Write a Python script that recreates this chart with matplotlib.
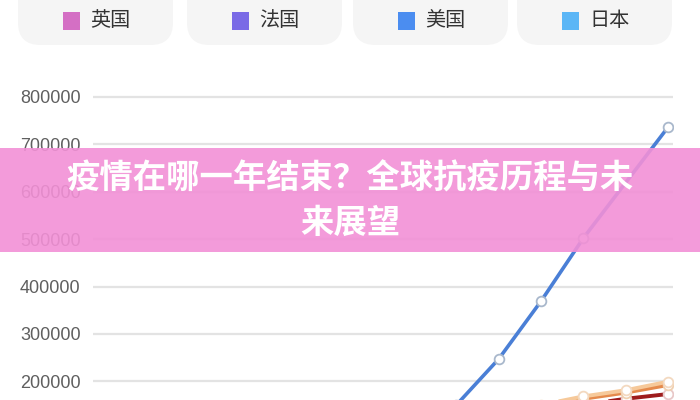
import matplotlib.pyplot as plt
from matplotlib.patches import FancyBboxPatch, Rectangle

plt.rcParams['font.family'] = ['Noto Sans CJK SC', 'DejaVu Sans']

# Данные графика
legend_names = ['英国', '法国', '美国', '日本']
legend_colors = ['#d46fc4', '#7a6ae6', '#4b8df0', '#5bb6f6']

points = list(range(14))
# у США нет точки с индексом 12
usa_points = [0, 1, 2, 3, 4, 5, 6, 7, 8, 9, 10, 11, 13]
usa = [0, 2000, 6000, 15000, 30000, 50000, 75000, 110000, 150000,
       247000, 369000, 502000, 736000]
peach = [0, 2000, 5000, 10000, 20000, 35000, 50000, 70000, 90000, 120000,
         150000, 168000, 181000, 199000]
orange = [0, 2000, 5000, 10000, 20000, 35000, 50000, 70000, 90000, 115000,
          145000, 163000, 176000, 192000]
darkred = [0, 1000, 4000, 8000, 15000, 30000, 45000, 60000, 80000, 105000,
           130000, 150000, 163000, 173000]
yticks = [200000, 300000, 400000, 500000, 600000, 700000, 800000]

title = '疫情在哪一年结束？全球抗疫历程与未\n来展望'

W, H = 700, 400
fig = plt.figure(figsize=(7, 4), dpi=100)
fig.patch.set_facecolor('white')

# оси: 0 -> y=476px, 800000 -> y=97px
px_per_val = (476 - 97) / 800000
top_val = 850000
top_px = 476 - top_val * px_per_val
ax = fig.add_axes([93 / W, (H - 476) / H, 580 / W, (476 - top_px) / H])
ax.set_xlim(-0.59, 13.12)
ax.set_ylim(0, top_val)
for s in ax.spines.values():
    s.set_visible(False)
ax.set_xticks([])
ax.set_yticks(yticks)
ax.set_yticklabels([str(v) for v in yticks], fontfamily='Liberation Sans',
                   fontsize=13, color='#5f5f5f')
ax.tick_params(axis='y', length=0, pad=9)
ax.grid(axis='y', color='#e3e3e3', linewidth=1.6)
ax.set_axisbelow(True)

mk = dict(marker='o', markersize=7, markerfacecolor='white', markeredgewidth=1.3)
ax.plot(points, darkred, color='#9e1c1c', linewidth=2.8, markeredgecolor='#e8c8c8', **mk)
ax.plot(points, orange, color='#e58a4c', linewidth=2.8, markeredgecolor='#f0d0b0', **mk)
ax.plot(points, peach, color='#f6c99a', linewidth=2.8, markeredgecolor='#f3d9c0', **mk)
ax.plot(usa_points, usa, color='#4a7fd6', linewidth=2.6, markeredgecolor='#a9b8cc', **mk)

# легенда в виде "таблеток"
pill_x = [18, 187, 353, 517]
pill_w = 155
for i, name in enumerate(legend_names):
    x0 = pill_x[i]
    fig.patches.append(FancyBboxPatch(
        (x0 / W, (H - 45) / H), pill_w / W, 70 / H,
        boxstyle='round,pad=0,rounding_size=0.032', transform=fig.transFigure,
        facecolor='#f5f5f5', edgecolor='none', mutation_aspect=W / H))
    fig.patches.append(Rectangle(
        ((x0 + 45) / W, (H - 30) / H), 17 / W, 18 / H,
        transform=fig.transFigure, facecolor=legend_colors[i], edgecolor='none'))
    fig.text((x0 + 72) / W, (H - 21) / H, name, fontsize=14.5, color='#333333',
             va='center', ha='left')

# розовая плашка с заголовком
fig.patches.append(Rectangle((0, (H - 252) / H), 1, 104 / H, transform=fig.transFigure,
                             facecolor='#f290d6', alpha=0.9, edgecolor='none', zorder=5))
fig.text(0.5, (H - 201) / H, title, ha='center', va='center', fontsize=24,
         fontweight='heavy', color='white', linespacing=1.45, zorder=6)

fig.savefig('out.png', dpi=100)
